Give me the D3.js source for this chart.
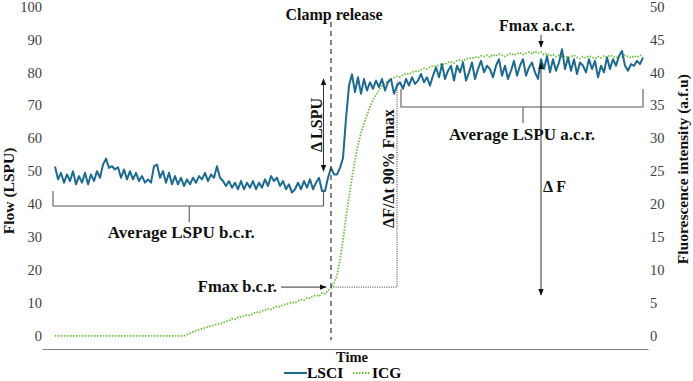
<!DOCTYPE html>
<html>
<head>
<meta charset="utf-8">
<script src="https://cdn.jsdelivr.net/npm/d3@7"></script>
<style>
  body { margin: 0; background: #fff; }
</style>
</head>
<body>
<svg id="chart" width="693" height="381" font-family="Liberation Serif"></svg>
<script>
// LSCI flow (left axis, LSPU), one sample per time step
const lsci = [
  51.4, 47.5, 49.5, 46.5, 49, 47, 50, 46, 48.5, 46.5,
  49.5, 46, 49, 47, 50, 48, 52, 53.8, 51, 51.5,
  50.5, 51.2, 48, 50.5, 47.5, 50, 47.5, 49.5, 47, 48.5,
  46.5, 47.5, 46.5, 51.5, 52, 48, 50, 46.5, 49.5, 46,
  48.5, 46, 48, 45.5, 47.5, 46, 48, 46.5, 48.5, 47.5,
  49.5, 47, 49, 48, 51.5, 48, 47, 45.5, 47, 45,
  46.5, 44.5, 47, 44.5, 46.5, 45, 47, 44.5, 46.5, 45,
  47.5, 45.5, 48.5, 47, 48, 45.5, 47, 44.5, 46, 43.5,
  44.5, 46.5, 44.5, 47, 45, 47.5, 44.5, 46.5, 48, 44,
  44, 48, 51, 49, 49, 51, 54, 66, 76, 79.4,
  74, 78.5, 73.5, 78, 74.5, 77, 75, 77.5, 75.5, 78,
  74.5, 77, 78, 73.5, 76, 77, 75, 78, 76, 78.5,
  76.5, 77.5, 79.5, 77, 78.5, 76, 79, 81.5, 78.5, 82.5,
  78, 80.5, 82, 77.5, 82, 80, 83, 77.5, 80, 83,
  78, 81, 83.5, 80, 82, 81, 78.5, 82, 84, 79,
  82, 78, 80.5, 83.5, 79, 82, 84, 79, 81.5, 83,
  80, 78, 84, 81, 85, 80, 84, 80.5, 83, 87,
  81, 84.5, 80.5, 84, 79.5, 83, 82, 80, 84, 81,
  83.5, 78.5, 82, 80, 84.5, 81, 84, 82, 85, 86.5,
  82, 80.5, 82.5, 82, 83.5, 82.5, 84.5
];

// ICG fluorescence (right axis, a.f.u), same time steps
const icg = [
  0, 0, 0, 0, 0, 0, 0, 0, 0, 0,
  0, 0, 0, 0, 0, 0, 0, 0, 0, 0,
  0, 0, 0, 0, 0, 0, 0, 0, 0, 0,
  0, 0, 0, 0, 0, 0, 0, 0, 0, 0,
  0, 0, 0, 0, 0.2, 0.4, 0.6, 0.8, 0.9, 1.1,
  1.2, 1.4, 1.5, 1.6, 1.8, 1.8, 2.0, 2.2, 2.3, 2.6,
  2.5, 2.8, 2.9, 3.0, 3.2, 3.1, 3.4, 3.6, 3.5, 3.8,
  3.9, 4.1, 4.0, 4.3, 4.5, 4.4, 4.7, 4.8, 4.9, 5.1,
  5.0, 5.3, 5.5, 5.4, 5.8, 5.7, 6.0, 6.2, 6.0, 6.5,
  6.4, 6.9, 7.2, 8.0, 9.2, 11.5, 14.5, 18, 21, 24,
  26.8, 29, 30.8, 32.3, 33.5, 34.8, 35.8, 36.6, 37.3, 37.9,
  38.3, 38.7, 39.0, 39.2, 39.4, 39.3, 39.6, 39.8, 39.7, 40.0,
  40.2, 40.1, 40.4, 40.6, 40.5, 40.8, 41.0, 40.9, 41.1, 41.3,
  41.2, 41.5, 41.6, 41.4, 41.8, 41.9, 41.7, 42.0, 42.2, 42.1,
  42.3, 42.2, 42.5, 42.4, 42.6, 42.3, 42.7, 42.5, 42.8, 42.6,
  42.4, 42.7, 42.9, 42.6, 42.8, 43.0, 42.7, 42.9, 43.1, 42.8,
  43.2, 42.9, 43.1, 42.7, 42.9, 42.5, 42.7, 42.4, 42.6, 42.3,
  42.5, 42.2, 42.4, 42.6, 42.3, 42.1, 42.4, 42.2, 42.5, 42.3,
  42.1, 42.4, 42.2, 42.5, 42.3, 42.6, 42.4, 42.2, 42.5, 42.3,
  42.6, 42.4, 42.2, 42.5, 42.3, 42.6, 42.4
];

const leftTicks = [0, 10, 20, 30, 40, 50, 60, 70, 80, 90, 100];
const rightTicks = [0, 5, 10, 15, 20, 25, 30, 35, 40, 45, 50];

// annotation anchors (time step / axis values)
const clampRelease = 92;
const bcrRange = [0, 89.5];
const acrRange = [116, 196];
const fmaxAcr = 162;
const t90 = 114;
const fmaxBcrValue = 7.4;
const fmax90Value = 38.7;
const deltaLspu = [50, 78];
const deltaF = [6.2, 41.4];

const svg = d3.select('#chart');
const serif = 'Liberation Serif';
const blue = '#1d6a91';
const green = '#6cbf3a';

const x = d3.scaleLinear().domain([0, lsci.length - 1]).range([55, 643]);
const yL = d3.scaleLinear().domain([-4, 100]).range([349, 6.5]);
const yR = d3.scaleLinear().domain([-2, 50]).range([349, 6.5]);

// arrow heads
const defs = svg.append('defs');
const addMarker = (id, orient) => {
    defs.append('marker')
        .attr('id', id)
        .attr('viewBox', '0 0 10 10')
        .attr('refX', 9).attr('refY', 5)
        .attr('markerWidth', 7).attr('markerHeight', 7)
        .attr('markerUnits', 'userSpaceOnUse')
        .attr('orient', orient)
        .append('path')
        .attr('d', 'M0,1 L10,5 L0,9 Z')
        .attr('fill', '#111');
};
addMarker('arrow', 'auto');
addMarker('arrowStart', 'auto-start-reverse');

// axes
const yAxisL = svg.append('g')
    .attr('transform', 'translate(46,0)')
    .call(d3.axisLeft(yL).tickValues(leftTicks).tickSize(0).tickPadding(4));
const yAxisR = svg.append('g')
    .attr('transform', 'translate(647,0)')
    .call(d3.axisRight(yR).tickValues(rightTicks).tickSize(0).tickPadding(3));
[yAxisL, yAxisR].forEach(g => {
    g.attr('font-family', serif);
    g.select('.domain').remove();
    g.selectAll('text')
        .attr('font-family', serif)
        .attr('font-size', 14.5)
        .attr('fill', '#404040');
});
// keep left labels flush right against x = 42
yAxisL.selectAll('text').each(function() {
    const b = this.getBBox();
    const shift = -4 - (b.x + b.width);
    if (Math.abs(shift) > 0.5) {
        d3.select(this).attr('x', +d3.select(this).attr('x') + shift);
    }
});

const xAxisScale = d3.scaleLinear().domain([x.invert(42), x.invert(648)]).range([42, 648]);
svg.append('g')
    .attr('transform', 'translate(0,349)')
    .call(d3.axisBottom(xAxisScale).tickValues([]).tickSizeOuter(0))
    .select('.domain')
    .attr('stroke', '#7f7f7f');

const label = (txt, size) => svg.append('text')
    .attr('font-family', serif)
    .attr('font-size', size)
    .attr('font-weight', 'bold')
    .attr('fill', '#111')
    .text(txt);

// axis titles
label('Flow (LSPU)', 15.5)
    .attr('transform', `translate(14,${yL(44)}) rotate(-90)`)
    .attr('text-anchor', 'middle');
label('Fluorescence intensity (a.f.u)', 15.5)
    .attr('transform', `translate(688,${yR(25.3)}) rotate(-90)`)
    .attr('text-anchor', 'middle');
label('Time', 14.5)
    .attr('x', x(clampRelease) + 21).attr('y', 362)
    .attr('text-anchor', 'middle');

// series
const lineL = d3.line().x((d, i) => x(i)).y(d => yL(d));
const lineR = d3.line().x((d, i) => x(i)).y(d => yR(d));

svg.append('path')
    .attr('d', lineR(icg))
    .attr('fill', 'none')
    .attr('stroke', green)
    .attr('stroke-width', 1.8)
    .attr('stroke-dasharray', '1.5,1.5');

svg.append('path')
    .attr('d', lineL(lsci))
    .attr('fill', 'none')
    .attr('stroke', blue)
    .attr('stroke-width', 2)
    .attr('stroke-linejoin', 'round');

// clamp release
svg.append('line')
    .attr('x1', x(clampRelease)).attr('x2', x(clampRelease))
    .attr('y1', 22).attr('y2', 340)
    .attr('stroke', '#333').attr('stroke-width', 1.2)
    .attr('stroke-dasharray', '5,4');
label('Clamp release', 16)
    .attr('x', x(clampRelease) + 3).attr('y', 20)
    .attr('text-anchor', 'middle');

// delta LSPU
svg.append('line')
    .attr('x1', x(bcrRange[1])).attr('x2', x(bcrRange[1]))
    .attr('y1', yL(deltaLspu[0])).attr('y2', yL(deltaLspu[1]))
    .attr('stroke', '#333').attr('stroke-width', 1)
    .attr('marker-start', 'url(#arrowStart)')
    .attr('marker-end', 'url(#arrow)');
label('Δ LSPU', 16)
    .attr('transform', `translate(${x(bcrRange[1]) - 2},${yL(64)}) rotate(-90)`)
    .attr('text-anchor', 'middle');

// brackets
const bracket = (i0, i1, yTop, yBar, yTip) => {
    const xm = (x(i0) + x(i1)) / 2;
    svg.append('path')
        .attr('d', `M${x(i0) - 2},${yTop} V${yBar} H${x(i1)} V${yTop} M${xm},${yBar} V${yTip}`)
        .attr('fill', 'none')
        .attr('stroke', '#595959').attr('stroke-width', 1.1);
    return xm;
};
const xmB = bracket(bcrRange[0], bcrRange[1], 191, 206, 222);
label('Average LSPU b.c.r.', 17)
    .attr('x', xmB - 8).attr('y', 238)
    .attr('text-anchor', 'middle');

const xmA = bracket(acrRange[0], acrRange[1], 89, 107, 123);
label('Average LSPU a.c.r.', 17)
    .attr('x', xmA - 1).attr('y', 140)
    .attr('text-anchor', 'middle');

// Fmax a.c.r.
label('Fmax a.c.r.', 16)
    .attr('x', x(fmaxAcr) - 4).attr('y', 31)
    .attr('text-anchor', 'middle');
svg.append('line')
    .attr('x1', x(fmaxAcr)).attr('x2', x(fmaxAcr))
    .attr('y1', 35).attr('y2', 47)
    .attr('stroke', '#333').attr('stroke-width', 1)
    .attr('marker-end', 'url(#arrow)');

// delta F
svg.append('line')
    .attr('x1', x(fmaxAcr)).attr('x2', x(fmaxAcr))
    .attr('y1', yR(deltaF[1])).attr('y2', yR(deltaF[0]))
    .attr('stroke', '#333').attr('stroke-width', 1)
    .attr('marker-start', 'url(#arrowStart)')
    .attr('marker-end', 'url(#arrow)');
label('Δ F', 16)
    .attr('x', x(fmaxAcr) + 2).attr('y', 192);

// dF/dt at 90% Fmax
svg.append('path')
    .attr('d', `M${x(clampRelease)},${yR(fmaxBcrValue)} H${x(t90)} V${yR(fmax90Value)}`)
    .attr('fill', 'none')
    .attr('stroke', '#333').attr('stroke-width', 1)
    .attr('stroke-dasharray', '1,1.3');
label('ΔF/Δt 90% Fmax', 16)
    .attr('transform', `translate(${x(t90) - 3},${yR(25.4)}) rotate(-90)`)
    .attr('text-anchor', 'middle');

// Fmax b.c.r.
svg.append('line')
    .attr('x1', 281).attr('x2', x(clampRelease) - 5)
    .attr('y1', yR(fmaxBcrValue)).attr('y2', yR(fmaxBcrValue))
    .attr('stroke', '#333').attr('stroke-width', 1)
    .attr('marker-end', 'url(#arrow)');
label('Fmax b.c.r.', 16.5)
    .attr('x', 277).attr('y', yR(fmaxBcrValue) + 5)
    .attr('text-anchor', 'end');

// legend
const legend = svg.append('g').attr('transform', 'translate(284,378)');
legend.append('line')
    .attr('x1', 0).attr('x2', 23).attr('y1', -5).attr('y2', -5)
    .attr('stroke', blue).attr('stroke-width', 2);
legend.append('text')
    .attr('x', 23).attr('y', 0)
    .attr('font-family', serif)
    .attr('font-size', 15.5).attr('font-weight', 'bold')
    .text('LSCI');
legend.append('line')
    .attr('x1', 69).attr('x2', 86).attr('y1', -5).attr('y2', -5)
    .attr('stroke', green).attr('stroke-width', 1.8)
    .attr('stroke-dasharray', '1.5,1.5');
legend.append('text')
    .attr('x', 88).attr('y', 0)
    .attr('font-family', serif)
    .attr('font-size', 15.5).attr('font-weight', 'bold')
    .text('ICG');
</script>
</body>
</html>
